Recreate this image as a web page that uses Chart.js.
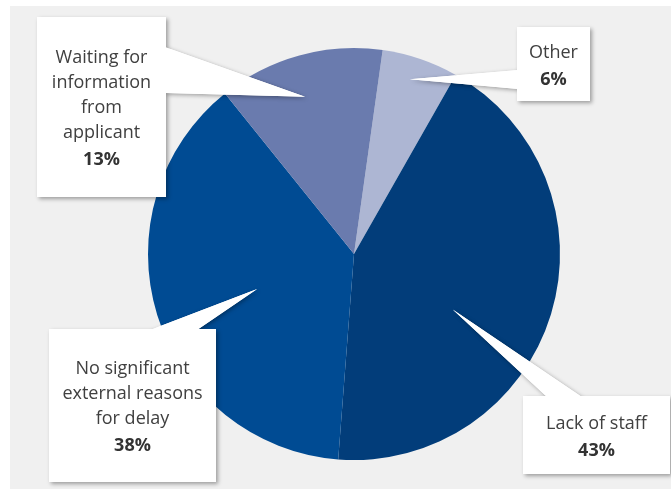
<!DOCTYPE html>
<html>
<head>
<meta charset="utf-8">
<script src="https://cdn.jsdelivr.net/npm/chart.js@4.4.1/dist/chart.umd.min.js"></script>
<style>
  html, body { margin: 0; padding: 0; background: #ffffff; }
  #wrap { position: relative; width: 671px; height: 493px; }
</style>
</head>
<body>
<div id="wrap"><canvas id="delay-chart" width="671" height="493"></canvas></div>
<script>
// Reasons for delay, clockwise from the top
const categories = ['Other', 'Lack of staff', 'No significant external reasons for delay', 'Waiting for information from applicant'];
const shares = [6, 43, 38, 13];
const labelLines = [
  ['Other'],
  ['Lack of staff'],
  ['No significant', 'external reasons', 'for delay'],
  ['Waiting for', 'information', 'from', 'applicant']
];
const sliceColors = ['#adb6d3', '#023d7a', '#004b93', '#6a7bae'];

// Callout boxes: rect, side the pointer leaves from, pointer base span,
// and where the tip sits inside its slice (t = along the arc, f = fraction of radius)
const callouts = [
  { x: 517, y: 27,  w: 73,  h: 74,  side: 'left',  a: 70,  b: 89,  t: 0.45, f: 0.89 },
  { x: 523, y: 396, w: 147, h: 78,  side: 'top',   a: 547, b: 582, t: 0.58, f: 0.55 },
  { x: 49,  y: 329, w: 167, h: 153, side: 'top',   a: 150, b: 197, t: 0.48, f: 0.50 },
  { x: 37,  y: 17,  w: 129, h: 180, side: 'right', a: 47,  b: 93,  t: 0.46, f: 0.80 }
];

const FONT = '"Open Sans", "Noto Sans", sans-serif';
const LINE_H = 25;

const panelPlugin = {
  id: 'panel',
  beforeDraw(chart) {
    const ctx = chart.ctx;
    ctx.save();
    ctx.fillStyle = '#f0f0f0';
    ctx.fillRect(10, 6, chart.width - 10, 483);
    ctx.restore();
  }
};

function pointerPath(ctx, c, tip) {
  ctx.beginPath();
  if (c.side === 'left') {
    ctx.moveTo(c.x + 1, c.a);
    ctx.lineTo(tip.x, tip.y);
    ctx.lineTo(c.x + 1, c.b);
  } else if (c.side === 'right') {
    ctx.moveTo(c.x + c.w - 1, c.a);
    ctx.lineTo(tip.x, tip.y);
    ctx.lineTo(c.x + c.w - 1, c.b);
  } else {
    ctx.moveTo(c.a, c.y + 1);
    ctx.lineTo(tip.x, tip.y);
    ctx.lineTo(c.b, c.y + 1);
  }
  ctx.closePath();
}

const calloutPlugin = {
  id: 'callouts',
  afterDatasetsDraw(chart) {
    const ctx = chart.ctx;
    const arcs = chart.getDatasetMeta(0).data;
    arcs.forEach((arc, i) => {
      const c = callouts[i];
      const p = arc.getProps(['x', 'y', 'startAngle', 'endAngle', 'outerRadius'], true);
      const ang = p.startAngle + (p.endAngle - p.startAngle) * c.t;
      const tip = {
        x: p.x + Math.cos(ang) * p.outerRadius * c.f,
        y: p.y + Math.sin(ang) * p.outerRadius * c.f
      };

      ctx.save();
      ctx.fillStyle = '#ffffff';
      ctx.shadowColor = 'rgba(0, 0, 0, 0.35)';
      ctx.shadowBlur = 4;
      ctx.shadowOffsetX = 1.5;
      ctx.shadowOffsetY = 1.5;
      pointerPath(ctx, c, tip);
      ctx.fill();
      ctx.fillRect(c.x, c.y, c.w, c.h);
      ctx.shadowColor = 'transparent';
      pointerPath(ctx, c, tip);
      ctx.fill();
      ctx.fillRect(c.x, c.y, c.w, c.h);

      // label text with the share in bold underneath
      const lines = labelLines[i];
      const total = lines.length + 1;
      const cx = c.x + c.w / 2;
      const top = c.y + c.h / 2 - (total * LINE_H) / 2 + LINE_H / 2 + 1;
      ctx.textAlign = 'center';
      ctx.textBaseline = 'middle';
      ctx.fillStyle = '#404040';
      ctx.font = '18px ' + FONT;
      lines.forEach((ln, k) => ctx.fillText(ln, cx, top + k * LINE_H));
      ctx.fillStyle = '#333333';
      ctx.font = 'bold 18px ' + FONT;
      ctx.fillText(shares[i] + '%', cx, top + lines.length * LINE_H + 2);
      ctx.restore();
    });
  }
};

new Chart(document.getElementById('delay-chart'), {
  type: 'pie',
  data: {
    labels: categories,
    datasets: [{
      data: shares,
      backgroundColor: sliceColors,
      borderWidth: 0
    }]
  },
  options: {
    responsive: false,
    animation: false,
    rotation: 8,
    layout: { padding: { left: 148, right: 111, top: 48, bottom: 33 } },
    plugins: {
      legend: { display: false },
      tooltip: { enabled: false }
    }
  },
  plugins: [panelPlugin, calloutPlugin]
});
</script>
</body>
</html>
